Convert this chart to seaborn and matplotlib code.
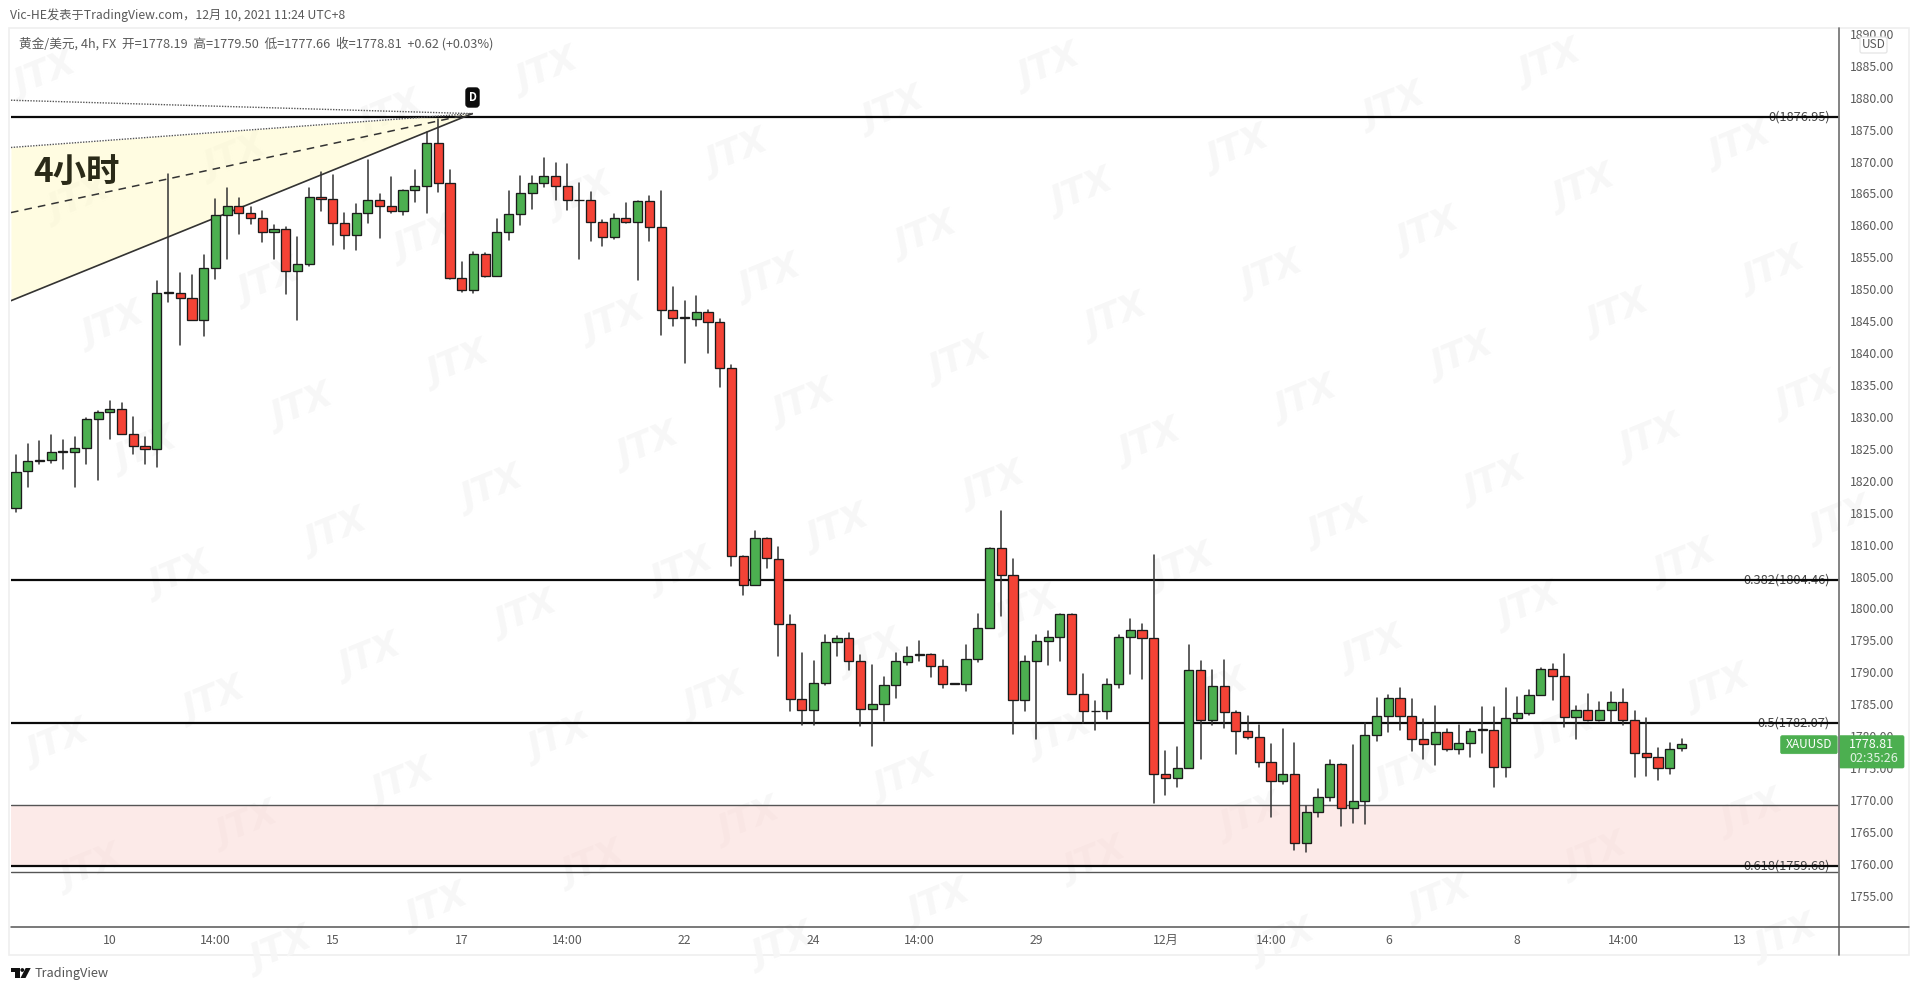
import numpy as np
import pandas as pd
import matplotlib
matplotlib.use("Agg")
import matplotlib.pyplot as plt
from matplotlib.patches import FancyBboxPatch, Rectangle, Polygon
import seaborn as sns

sns.set_theme(style="white")
FONT = ['Noto Sans CJK SC', 'DejaVu Sans']
plt.rcParams['font.family'] = FONT

opens = [1815.7,1821.5,1823.1,1823.2,1824.5,1824.5,1825.1,1829.7,1830.7,1831.3,
1827.4,1825.5,1824.9,1849.4,1849.4,1848.7,1845.2,1853.4,1861.6,1863.1,
1861.9,1861.2,1858.9,1859.5,1852.8,1854.0,1864.4,1864.1,1860.3,1858.5,
1861.9,1863.9,1863.1,1862.3,1865.5,1866.2,1872.9,1866.7,1851.8,1849.8,
1855.5,1852.1,1859.0,1861.8,1865.1,1866.7,1867.8,1866.2,1863.9,1863.9,
1860.5,1858.2,1861.2,1860.6,1863.8,1859.8,1846.7,1845.5,1845.4,1846.4,
1844.8,1837.7,1808.2,1803.6,1811.0,1807.8,1797.6,1785.8,1784.1,1788.4,
1794.7,1795.4,1791.8,1784.2,1785.1,1788.0,1791.6,1792.7,1792.8,1791.0,
1788.2,1788.2,1792.1,1797.0,1809.5,1805.2,1785.6,1791.7,1794.9,1795.6,
1799.1,1786.6,1783.9,1783.9,1788.2,1795.6,1796.7,1795.4,1774.1,1773.5,
1775.0,1790.4,1782.6,1787.9,1783.8,1780.8,1779.9,1775.9,1772.9,1774.1,
1763.2,1768.2,1770.4,1775.7,1768.7,1769.8,1780.2,1783.1,1785.9,1783.1,
1779.5,1778.7,1780.6,1778.0,1778.9,1781.0,1781.0,1775.1,1782.8,1783.6,
1786.4,1790.5,1789.4,1783.0,1784.1,1782.5,1784.1,1785.4,1782.6,1777.4,
1776.7,1775.0,1778.19]
highs = [1824.0,1825.8,1826.3,1827.1,1826.4,1826.9,1829.9,1831.0,1832.5,1832.2,
1830.0,1826.9,1851.3,1868.1,1852.5,1852.3,1855.3,1864.1,1865.8,1864.3,
1862.9,1862.3,1860.0,1859.7,1858.2,1865.8,1868.4,1867.9,1862.0,1863.3,
1870.2,1864.9,1867.6,1865.5,1868.6,1874.6,1876.7,1868.7,1854.2,1855.8,
1855.7,1861.0,1865.4,1867.7,1867.7,1870.5,1869.7,1869.6,1866.6,1865.3,
1860.8,1861.8,1863.5,1863.8,1864.6,1865.4,1850.4,1848.2,1848.9,1846.7,
1845.3,1838.2,1808.2,1812.2,1811.1,1809.6,1798.9,1793.0,1791.7,1795.8,
1795.7,1796.1,1792.7,1791.2,1789.2,1793.0,1794.0,1794.9,1792.8,1791.9,
1788.2,1794.2,1799.2,1809.5,1815.3,1807.7,1792.6,1795.8,1796.4,1799.2,
1799.2,1789.7,1785.5,1788.9,1795.8,1798.4,1797.6,1808.4,1777.6,1778.3,
1794.3,1791.8,1790.4,1792.0,1784.0,1783.2,1781.7,1778.7,1781.1,1778.9,
1769.1,1771.7,1776.3,1775.7,1778.6,1782.0,1785.9,1786.4,1787.6,1785.8,
1782.7,1784.8,1781.1,1781.7,1781.2,1784.5,1784.5,1787.6,1786.1,1787.2,
1790.7,1791.3,1792.8,1784.8,1786.6,1785.3,1786.9,1787.4,1783.9,1782.8,
1778.1,1778.9,1779.50]
lows = [1815.1,1819.1,1822.7,1822.8,1821.8,1819.0,1822.6,1820.1,1826.6,1827.3,
1824.2,1822.7,1822.1,1848.0,1841.3,1845.1,1842.7,1851.6,1854.7,1858.6,
1860.2,1857.4,1854.8,1849.3,1845.1,1853.7,1862.2,1857.0,1856.3,1856.1,
1860.4,1858.0,1861.9,1861.6,1863.7,1862.0,1865.2,1851.6,1849.5,1849.4,
1851.9,1852.1,1857.7,1860.1,1862.6,1866.0,1863.9,1862.4,1854.8,1857.5,
1856.7,1857.8,1860.3,1851.4,1857.6,1842.9,1844.2,1838.5,1844.3,1840.0,
1834.7,1806.7,1802.1,1803.6,1806.3,1792.6,1784.0,1781.8,1781.8,1788.0,
1792.6,1790.3,1781.6,1778.4,1782.4,1785.9,1791.2,1791.8,1789.2,1787.6,
1788.2,1787.1,1791.6,1797.0,1798.8,1780.3,1783.9,1779.6,1791.1,1791.7,
1786.6,1782.1,1781.0,1782.7,1787.6,1789.8,1789.0,1769.6,1770.8,1772.1,
1775.0,1776.5,1781.7,1781.3,1777.2,1779.5,1775.1,1767.3,1772.5,1762.2,
1761.8,1767.3,1769.8,1766.0,1766.4,1766.2,1779.3,1780.6,1781.0,1777.7,
1776.4,1775.5,1777.7,1777.2,1776.7,1777.3,1772.1,1773.6,1782.2,1783.3,
1786.4,1785.7,1781.5,1779.5,1782.4,1782.4,1782.2,1781.8,1773.6,1773.8,
1773.2,1774.1,1777.66]
closes = [1821.4,1823.1,1823.3,1824.5,1824.6,1825.1,1829.6,1830.7,1831.3,1827.4,
1825.5,1824.9,1849.4,1849.5,1848.7,1845.2,1853.4,1861.6,1863.1,1862.0,
1861.2,1858.9,1859.5,1852.8,1854.0,1864.4,1864.1,1860.3,1858.5,1861.9,
1863.9,1863.1,1862.3,1865.5,1866.2,1872.9,1866.7,1851.8,1849.8,1855.5,
1852.1,1859.0,1861.8,1865.1,1866.7,1867.8,1866.2,1863.9,1864.0,1860.5,
1858.2,1861.2,1860.6,1863.8,1859.8,1846.7,1845.5,1845.6,1846.4,1844.8,
1837.7,1808.2,1803.6,1811.0,1807.9,1797.6,1785.8,1784.1,1788.4,1794.7,
1795.4,1791.8,1784.2,1785.1,1788.0,1791.7,1792.6,1792.8,1791.0,1788.2,
1788.3,1792.1,1797.0,1809.5,1805.3,1785.6,1791.7,1794.9,1795.6,1799.1,
1786.6,1783.9,1784.0,1788.2,1795.6,1796.7,1795.4,1774.1,1773.5,1775.0,
1790.4,1782.6,1787.9,1783.8,1780.8,1779.8,1775.9,1772.9,1774.1,1763.2,
1768.2,1770.4,1775.7,1768.7,1769.8,1780.2,1783.1,1785.9,1783.1,1779.5,
1778.7,1780.6,1778.0,1778.9,1780.8,1781.1,1775.1,1782.8,1783.6,1786.4,
1790.5,1789.4,1783.0,1784.1,1782.5,1784.1,1785.4,1782.6,1777.4,1776.7,
1775.0,1778.0,1778.81]

fib_levels = [1876.95, 1804.46, 1782.07, 1759.68]
fib_labels = ["0(1876.95)", "0.382(1804.46)", "0.5(1782.07)", "0.618(1759.68)"]
zone_top, zone_fib, zone_bottom = 1769.2, 1759.68, 1758.8
fan_x = [-0.43, 38.9]
fan_apex = 1877.5
fan_left = {"top": 1879.6, "upper": 1872.2, "mid": 1862.0, "low": 1848.2}
price_ticks = list(range(1755, 1895, 5))
time_pos = [8, 17, 27, 38, 47, 57, 68, 77, 87, 98, 107, 117, 128, 137, 147]
time_lab = ["10", "14:00", "15", "17", "14:00", "22", "24", "14:00", "29", "12月",
            "14:00", "6", "8", "14:00", "13"]
header1 = "Vic-HE发表于TradingView.com，12月 10, 2021 11:24 UTC+8"
header2 = "黄金/美元, 4h, FX  开=1778.19  高=1779.50  低=1777.66  收=1778.81  +0.62 (+0.03%)"

W, H = 1920, 998
GREEN, RED, EDGE, TXT = "#4CAF50", "#F44336", "#1c1c1c", "#5a5a5a"
fig = plt.figure(figsize=(W / 100, H / 100), dpi=100, facecolor="white")

# layer in pixel coordinates, behind the chart: watermark and frame
bg = fig.add_axes([0, 0, 1, 1], zorder=0)
bg.set_xlim(0, W); bg.set_ylim(H, 0); bg.axis("off")
for n in range(-12, 14):
    for m in range(-8, 8):
        px = 771 + n * 156 + m * 33.7
        py = 278 - n * 43 + m * 125
        if 45 < px < W - 45 and 35 < py < H - 35:
            bg.text(px, py, "JTX", fontsize=25, fontstyle="italic", fontweight="bold",
                    family="DejaVu Sans", color="#f7f7f7", rotation=22,
                    ha="center", va="center")
bg.add_patch(Rectangle((9, 28), 1900, 927, fc="none", ec="#efefef", lw=1.2))

# main chart
ax = fig.add_axes([11 / W, 1 - 926.5 / H, (1838.7 - 11) / W, (926.5 - 28) / H], zorder=1)
ax.patch.set_alpha(0)
for s in ax.spines.values():
    s.set_visible(False)

bars = np.arange(len(opens))
ax.fill_between(fan_x, [fan_left["low"], fan_apex], [fan_left["upper"], fan_apex],
                color="#FFFAC4", lw=0, alpha=0.5, zorder=1)
ax.axhspan(zone_fib, zone_top, color="#FBD7D3", lw=0, alpha=0.5, zorder=1)
ax.axhline(zone_top, color="#555555", lw=1.0, zorder=2)
ax.axhline(zone_bottom, color="#555555", lw=1.0, zorder=2)

for lv in fib_levels:
    ax.axhline(lv, color="#0a0a0a", lw=1.6, zorder=3)
for lv, lab in zip(fib_levels, fib_labels):
    ax.text((1830 - 16) / 11.73, lv, lab, ha="right", va="center", fontsize=9.2,
            color="#444444", zorder=2.5)

ax.plot(fan_x, [fan_left["low"], fan_apex], color="#333333", lw=1.2, zorder=3)
ax.plot(fan_x, [fan_left["mid"], fan_apex], color="#333333", lw=1.1, ls=(0, (5, 4)), zorder=3)
ax.plot(fan_x, [fan_left["upper"], fan_apex], color="#555555", lw=1.0, ls=(0, (1, 1)), zorder=3)
ax.plot(fan_x, [fan_left["top"], fan_apex], color="#555555", lw=1.0, ls=(0, (1, 1)), zorder=3)

wicks = pd.DataFrame({"bar": np.repeat(bars, 2),
                      "price": np.column_stack([lows, highs]).ravel()})
sns.lineplot(data=wicks, x="bar", y="price", units="bar", estimator=None, sort=False,
             color="#333333", lw=1.1, legend=False, ax=ax, zorder=4)

o, c = np.array(opens), np.array(closes)
ax.bar(bars, np.abs(c - o), bottom=np.minimum(o, c), width=0.78,
       color=[GREEN if b >= a else RED for a, b in zip(o, c)],
       edgecolor=EDGE, linewidth=0.95, zorder=5)

ax.set_xlim(-0.426, 155.4)
ax.set_ylim(1750.19, 1890.91)
ax.set_xlabel(""); ax.set_ylabel("")
ax.yaxis.tick_right()
ax.set_yticks(price_ticks)
ax.set_yticklabels([f"{p:.2f}" for p in price_ticks])
ax.set_xticks(time_pos)
ax.set_xticklabels(time_lab)
ax.tick_params(axis="y", length=0, pad=8, labelsize=8.8, labelcolor=TXT)
ax.tick_params(axis="x", length=0, pad=5.5, labelsize=8.8, labelcolor=TXT)
ax.text((33 - 16) / 11.73, 1868.2, "4小时", fontsize=24, fontweight="bold",
        color="#2a2a18", ha="left", va="center", zorder=6)

# layer in pixel coordinates, above the chart
fg = fig.add_axes([0, 0, 1, 1], zorder=2)
fg.set_xlim(0, W); fg.set_ylim(H, 0); fg.axis("off"); fg.patch.set_alpha(0)
fg.plot([1838.7, 1838.7], [28, 955], color="#7a7a7a", lw=1.3)
fg.plot([11, 1909], [926.7, 926.7], color="#555555", lw=1.1)
fg.text(10, 15.5, header1, fontsize=8.8, color=TXT, va="center")
fg.text(19, 43.7, header2, fontsize=9.13, color=TXT, va="center")

fg.add_patch(FancyBboxPatch((466, 88), 13, 19, boxstyle="round,pad=0,rounding_size=3",
                            fc="#0c0c0c", ec="#0c0c0c", lw=1))
fg.text(472.7, 97.5, "D", color="white", fontsize=8, fontweight="bold", ha="center", va="center")

fg.add_patch(FancyBboxPatch((1860, 37), 27, 16, boxstyle="round,pad=0,rounding_size=2",
                            fc="white", ec="#e4e4e4", lw=0.9))
fg.text(1873.5, 44.7, "USD", color=TXT, fontsize=8.6, ha="center", va="center")

fg.add_patch(FancyBboxPatch((1780.7, 735.7), 56.5, 18, boxstyle="round,pad=0,rounding_size=1.5",
                            fc=GREEN, ec=GREEN, lw=0.5))
fg.text(1809, 744.7, "XAUUSD", color="white", fontsize=8.6, ha="center", va="center")
fg.add_patch(FancyBboxPatch((1839, 735.7), 65, 32.3, boxstyle="round,pad=0,rounding_size=1.5",
                            fc=GREEN, ec=GREEN, lw=0.5))
fg.text(1849, 745, "1778.81", color="white", fontsize=9, fontweight="medium", ha="left", va="center")
fg.text(1849, 759, "02:35:26", color="#e2f3e3", fontsize=9, ha="left", va="center")

# TradingView mark
fg.add_patch(Polygon([(10.7, 968), (19.5, 968), (19.5, 978), (14.5, 978), (14.5, 972), (10.7, 972)],
                     fc="#111111", ec="none"))
fg.add_patch(plt.Circle((22.3, 970), 1.9, fc="#111111", ec="none"))
fg.add_patch(Polygon([(25.7, 968), (30.7, 968), (25.5, 978), (20.5, 978)], fc="#111111", ec="none"))
fg.text(35, 974, "TradingView", color="#555555", fontsize=9.2, va="center")

fig.savefig("out.png", dpi=100, facecolor="white")
